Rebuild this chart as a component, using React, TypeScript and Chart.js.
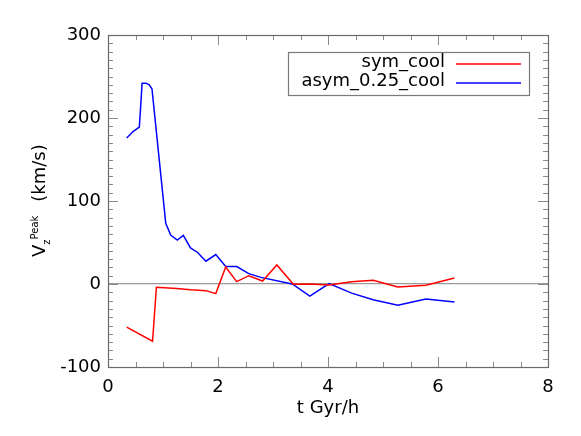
import React, { useEffect, useRef } from 'react';
import { Chart, registerables } from 'chart.js';

Chart.register(...registerables);

// ---- data ----
const seriesLabels = ['sym_cool', 'asym_0.25_cool'];
const seriesColors = ['#ff0000', '#0000ff'];

const symTime = [0.34, 0.81, 0.88, 1.25, 1.5, 1.78, 1.96, 2.14, 2.34, 2.56, 2.81, 3.07, 3.37, 3.67, 4.02, 4.43, 4.82, 5.27, 5.78, 6.3];
const symV = [-52, -69, -4, -5.5, -7, -8, -11.6, 20.5, 2.8, 10, 3.6, 23, -0.4, 0, -1.2, 2.6, 4.5, -3.6, -1.6, 7.2];

const asymTime = [0.34, 0.46, 0.57, 0.62, 0.69, 0.75, 0.8, 1.05, 1.14, 1.26, 1.37, 1.5, 1.63, 1.78, 1.96, 2.14, 2.34, 2.56, 2.78, 3.35, 3.67, 4.02, 4.43, 4.82, 5.27, 5.78, 6.3];
const asymV = [176, 184, 189, 242, 242, 240, 235, 73, 59, 53, 58.5, 43.5, 38, 27.5, 35.5, 21, 21, 12.5, 8, 0, -14.5, 0.4, -11, -19, -25.7, -18, -21.7];

const xRange = [0, 8];
const yRange = [-100, 300];
const xMajorStep = 2;
const xMinorStep = 0.5;
const yMajorStep = 100;
const yMinorStep = 10;

const xTitle = 't Gyr/h';
const yTitleMain = 'V';
const yTitleSub = 'z';
const yTitleSup = 'Peak';
const yTitleUnit = '(km/s)';

const FONT = '"DejaVu Sans", "Liberation Sans", Arial, sans-serif';

const idlPlugin = {
  id: 'idlDecor',
  afterDatasetsDraw(chart: any) {
    const ctx = chart.ctx as CanvasRenderingContext2D;
    const { left, right, top, bottom } = chart.chartArea;
    const xs = chart.scales.x;
    const ys = chart.scales.y;
    ctx.save();
    // inward ticks on all four sides
    ctx.strokeStyle = '#8a8a8a';
    ctx.lineWidth = 1;
    ctx.beginPath();
    const nx = Math.round((xRange[1] - xRange[0]) / xMinorStep);
    for (let i = 1; i < nx; i++) {
      const v = xRange[0] + i * xMinorStep;
      const major = Math.abs(v / xMajorStep - Math.round(v / xMajorStep)) < 1e-6;
      const len = major ? 10 : 5;
      const px = Math.round(xs.getPixelForValue(v)) + 0.5;
      ctx.moveTo(px, bottom);
      ctx.lineTo(px, bottom - len);
      ctx.moveTo(px, top);
      ctx.lineTo(px, top + len);
    }
    const ny = Math.round((yRange[1] - yRange[0]) / yMinorStep);
    for (let i = 1; i < ny; i++) {
      const v = yRange[0] + i * yMinorStep;
      const major = Math.abs(v / yMajorStep - Math.round(v / yMajorStep)) < 1e-6;
      const len = major ? 10 : 5;
      const py = Math.round(ys.getPixelForValue(v)) + 0.5;
      ctx.moveTo(left, py);
      ctx.lineTo(left + len, py);
      ctx.moveTo(right, py);
      ctx.lineTo(right - len, py);
    }
    ctx.stroke();
    // frame
    ctx.strokeStyle = '#6a6a6a';
    ctx.lineWidth = 1.2;
    ctx.strokeRect(Math.round(left) + 0.5, Math.round(top) + 0.5, Math.round(right - left), Math.round(bottom - top));

    // legend
    const bx0 = right - 260;
    const bx1 = right - 19;
    const by0 = top + 17;
    const by1 = top + 60;
    ctx.fillStyle = '#ffffff';
    ctx.fillRect(bx0, by0, bx1 - bx0, by1 - by0);
    ctx.strokeStyle = '#7a7a7a';
    ctx.lineWidth = 1.2;
    ctx.strokeRect(bx0 + 0.5, by0 + 0.5, bx1 - bx0, by1 - by0);
    ctx.font = `18px ${FONT}`;
    ctx.textAlign = 'right';
    ctx.textBaseline = 'alphabetic';
    chart.data.datasets.forEach((ds: any, i: number) => {
      const baseY = by0 + 15 + i * 19;
      ctx.fillStyle = '#000';
      ctx.fillText(ds.label, right - 103, baseY);
      ctx.strokeStyle = ds.borderColor;
      ctx.lineWidth = 1.5;
      ctx.beginPath();
      ctx.moveTo(right - 92, baseY - 3);
      ctx.lineTo(right - 27, baseY - 3);
      ctx.stroke();
    });

    // x title
    ctx.fillStyle = '#000';
    ctx.font = `18px ${FONT}`;
    ctx.textAlign = 'center';
    ctx.fillText(xTitle, (left + right) / 2, bottom + 46);

    // y title (rotated, with sub/superscript)
    ctx.translate(45, 257);
    ctx.rotate(-Math.PI / 2);
    ctx.textAlign = 'left';
    ctx.font = `18px ${FONT}`;
    let cx = 0;
    ctx.fillText(yTitleMain, cx, 0);
    cx += ctx.measureText(yTitleMain).width;
    ctx.font = `10px ${FONT}`;
    ctx.fillText(yTitleSub, cx, 5);
    cx += ctx.measureText(yTitleSub).width;
    ctx.fillText(yTitleSup, cx, -7);
    cx += ctx.measureText(yTitleSup).width;
    ctx.font = `18px ${FONT}`;
    cx += 14;
    ctx.fillText(yTitleUnit, cx, 0);
    ctx.restore();
  },
};

export default function App() {
  const ref = useRef<HTMLCanvasElement | null>(null);
  useEffect(() => {
    if (!ref.current) return;
    const chart = new Chart(ref.current, {
      type: 'line',
      data: {
        datasets: [
          {
            label: seriesLabels[0],
            data: symTime.map((t, i) => ({ x: t, y: symV[i] })),
            borderColor: seriesColors[0],
            backgroundColor: seriesColors[0],
            borderWidth: 1.5,
            pointRadius: 0,
            tension: 0,
          },
          {
            label: seriesLabels[1],
            data: asymTime.map((t, i) => ({ x: t, y: asymV[i] })),
            borderColor: seriesColors[1],
            backgroundColor: seriesColors[1],
            borderWidth: 1.5,
            pointRadius: 0,
            tension: 0,
          },
        ],
      },
      options: {
        responsive: false,
        animation: false,
        layout: { padding: { top: 35, right: 33, left: 0, bottom: 0 } },
        plugins: { legend: { display: false }, tooltip: { enabled: false } },
        scales: {
          x: {
            type: 'linear',
            min: xRange[0],
            max: xRange[1],
            border: { display: false },
            grid: { display: false, drawTicks: false },
            ticks: { stepSize: xMajorStep, color: '#000', font: { family: FONT, size: 18 }, padding: 10, maxRotation: 0 },
            afterFit: (s: any) => { s.height = 69; },
          },
          y: {
            type: 'linear',
            min: yRange[0],
            max: yRange[1],
            border: { display: false },
            grid: {
              drawTicks: false,
              color: (c: any) => (c.tick && c.tick.value === 0 ? '#9a9a9a' : 'rgba(0,0,0,0)'),
              lineWidth: 1.3,
            },
            ticks: { stepSize: yMajorStep, color: '#000', font: { family: FONT, size: 18 }, padding: 7 },
            afterFit: (s: any) => { s.width = 108; },
          },
        },
      },
      plugins: [idlPlugin],
    });
    return () => chart.destroy();
  }, []);
  return (
    <div style={{ position: 'fixed', left: 0, top: 0, width: 581, height: 436, background: '#fff' }}>
      <canvas ref={ref} width={581} height={436} style={{ display: 'block' }} />
    </div>
  );
}
